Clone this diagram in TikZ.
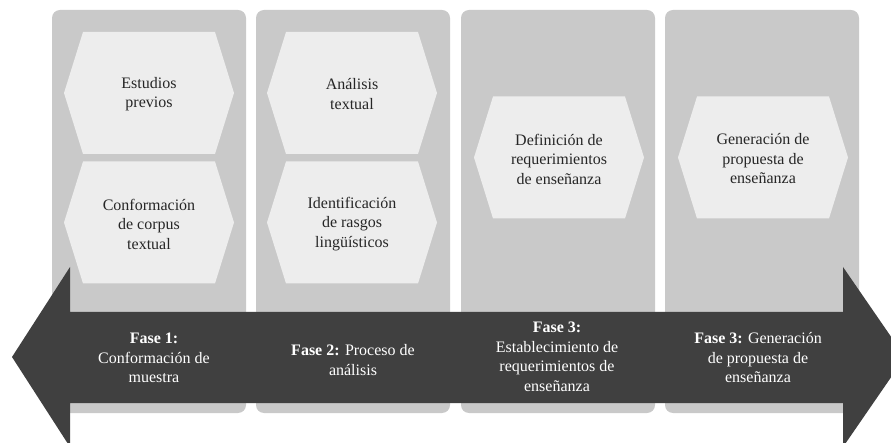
\documentclass[tikz,border=0pt]{standalone}
\usepackage{fontspec}
\setmainfont{Liberation Serif}
\usepackage{tikz}

\definecolor{colgray}{HTML}{C9C9C9}
\definecolor{hexgray}{HTML}{EDEDED}
\definecolor{arrowgray}{HTML}{404040}
\definecolor{inkgray}{HTML}{262626}

\begin{document}
\begin{tikzpicture}[x=1pt,y=-1pt,
  colbox/.style={fill=colgray,rounded corners=8pt},
  hexbox/.style={fill=hexgray},
  hextext/.style={align=center,text=inkgray,font=\fontsize{16}{19.5}\selectfont},
  fasetext/.style={align=center,text=white,font=\fontsize{16}{19.5}\selectfont}]
\useasboundingbox (0,0) rectangle (891,443);
\clip (0,0) rectangle (891,443);
\foreach \x in {52,256,461,665}
\fill[colbox] (\x,10) rectangle ++(194,403);
\foreach \x/\y in {149/93,149/222.5,352/93,352/222.5,559/157.5,763/157.5}
\fill[hexbox] (\x-85,\y) -- (\x-66,\y-61) -- (\x+66,\y-61) -- (\x+85,\y)
  -- (\x+66,\y+61) -- (\x-66,\y+61) -- cycle;
\node[hextext] (estudios) at (149,94) {Estudios\\previos};
\node[hextext] (corpus) at (149,224) {Conformación\\de corpus\\textual};
\node[hextext] (analisis) at (352,94) {Análisis\\textual};
\node[hextext] (rasgos) at (352,224) {Identificación\\de rasgos\\lingüísticos};
\node[hextext] (requerim) at (559,159) {Definición de\\requerimientos\\de enseñanza};
\node[hextext] (propuesta) at (763,159) {Generación de\\propuesta de\\enseñanza};
\fill[arrowgray] (12,357) -- (70,267) -- (70,312) -- (843,312) -- (843,267)
  -- (905,357) -- (843,447) -- (843,403) -- (70,403) -- (70,447) -- cycle;
\node[fasetext] (fase1) at (154,358) {\textbf{Fase 1:}\\Conformación de\\muestra};
\node[fasetext] (fase2) at (353,360) {\textbf{Fase 2:} Proceso de\\análisis};
\node[fasetext] (fase3) at (557,357) {\textbf{Fase 3:}\\Establecimiento de\\requerimientos de\\enseñanza};
\node[fasetext] (fase4) at (758,358) {\textbf{Fase 3:} Generación\\de propuesta de\\enseñanza};
\end{tikzpicture}
\end{document}
